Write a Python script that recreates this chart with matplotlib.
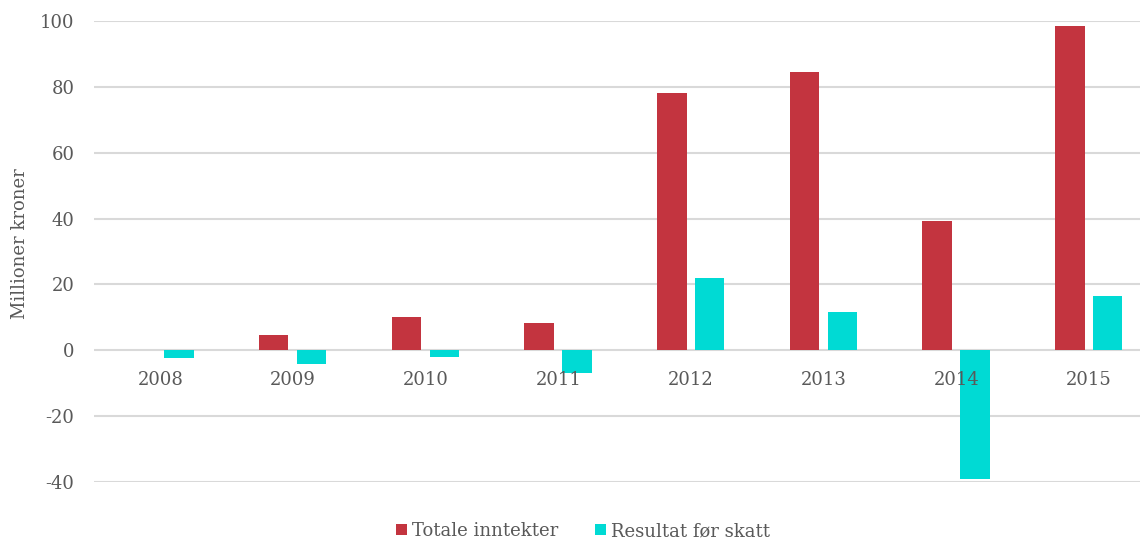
import numpy as np
import matplotlib.pyplot as plt

years = ["2008", "2009", "2010", "2011", "2012", "2013", "2014", "2015"]
inntekter = [0, 4.5, 10, 8.2, 78, 84.5, 39.4, 98.5]
resultat = [-2.2, -4.3, -1.9, -6.8, 22, 11.5, -39.1, 16.6]

red = "#C3343F"
cyan = "#00DAD4"
txt = "#595959"

plt.rcParams['font.family'] = ['DejaVu Serif']
plt.rcParams['axes.unicode_minus'] = False

fig = plt.figure(figsize=(11.4, 5.39), dpi=100)
ax = fig.add_axes([94 / 1140, 1 - 482 / 539, 1046 / 1140, 461 / 539])

x = np.arange(len(years))
w = 0.222
ax.bar(x - 0.145, inntekter, width=w, color=red, label="Totale inntekter", zorder=2)
ax.bar(x + 0.14, resultat, width=w, color=cyan, label="Resultat før skatt", zorder=2)

ax.set_xlim(-0.5, 7.384)
ax.set_ylim(-40, 100)
ax.set_yticks(np.arange(-40, 101, 20))
ax.yaxis.grid(True, color="#D9D9D9", linewidth=1.5)
ax.set_axisbelow(True)
# year labels sit on top of the bars (see 2014)
ax.xaxis.set_zorder(5)

for s in ["top", "right", "left"]:
    ax.spines[s].set_visible(False)
ax.spines["bottom"].set_position(("data", 0))
ax.spines["bottom"].set_visible(False)

ax.set_xticks(x)
ax.set_xticklabels(years)
ax.tick_params(axis="x", length=0, pad=15, labelsize=13, labelcolor=txt)
ax.tick_params(axis="y", length=0, pad=14, labelsize=13, labelcolor=txt)

ax.set_ylabel("Millioner kroner", fontsize=13, color=txt)
ax.yaxis.set_label_coords(-0.062, 0.518)

fig.legend(loc="center", bbox_to_anchor=(583 / 1140, 1 - 531 / 539), ncol=2,
           frameon=False, fontsize=13, handlelength=0.6, handleheight=0.6,
           handletextpad=0.3, columnspacing=2.0, labelcolor=txt)

fig.savefig("out.png", dpi=100)
